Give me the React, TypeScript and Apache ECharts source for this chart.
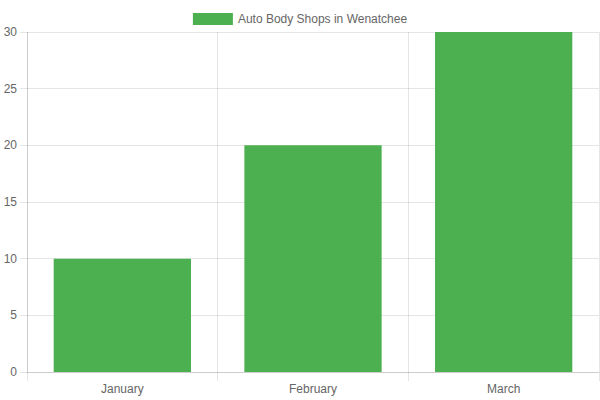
import React, { useEffect, useRef } from 'react';
import * as echarts from 'echarts';

const months = ['January', 'February', 'March'];
const shopCounts = [10, 20, 30];
const seriesName = 'Auto Body Shops in Wenatchee';

const gridColor = 'rgba(0,0,0,0.1)';
const textColor = '#666';

const App: React.FC = () => {
    const chartRef = useRef<HTMLDivElement>(null);

    useEffect(() => {
        document.body.style.margin = '0';
        if (!chartRef.current) return;
        const chart = echarts.init(chartRef.current, undefined, { renderer: 'svg' });

        const option: echarts.EChartsOption = {
            animation: false,
            textStyle: { fontFamily: 'Liberation Sans, Arial, sans-serif' },
            legend: {
                top: 8,
                left: 'center',
                itemWidth: 40,
                itemHeight: 12,
                itemGap: 10,
                icon: 'rect',
                textStyle: { color: textColor, fontSize: 12 },
                data: [seriesName],
            },
            grid: { left: 27, right: 1, top: 32, bottom: 28 },
            xAxis: {
                type: 'category',
                data: months,
                axisLine: { lineStyle: { color: gridColor } },
                axisTick: { show: true, length: 9, lineStyle: { color: gridColor } },
                splitLine: { show: true, lineStyle: { color: gridColor } },
                axisLabel: { color: textColor, fontSize: 12, margin: 11 },
            },
            yAxis: {
                type: 'value',
                min: 0,
                max: 30,
                interval: 5,
                axisLine: { show: true, lineStyle: { color: gridColor } },
                axisTick: { show: true, length: 7, lineStyle: { color: gridColor } },
                splitLine: { show: true, lineStyle: { color: gridColor } },
                axisLabel: { color: textColor, fontSize: 12, margin: 10 },
            },
            series: [
                {
                    name: seriesName,
                    type: 'bar',
                    data: shopCounts,
                    barWidth: '72%',
                    itemStyle: { color: '#4CAF50' },
                },
            ],
        };

        chart.setOption(option);
        return () => chart.dispose();
    }, []);

    return <div ref={chartRef} style={{ width: 600, height: 400 }} />;
};

export default App;
